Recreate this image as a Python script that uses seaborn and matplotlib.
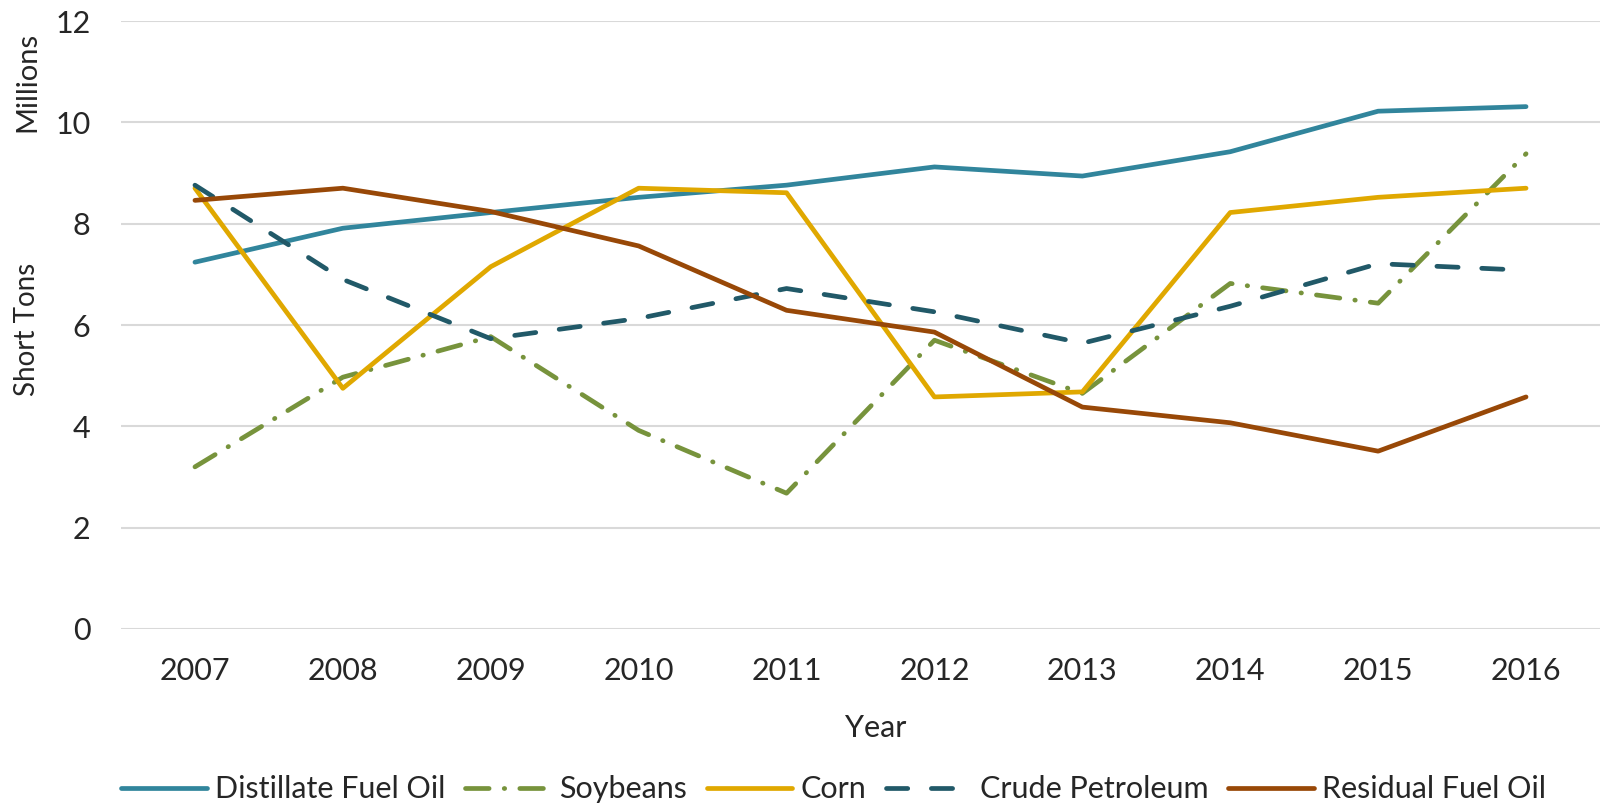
import pandas as pd
import matplotlib
matplotlib.use("Agg")
import matplotlib.pyplot as plt
import seaborn as sns

# Data (millions of short tons)
years = [2007, 2008, 2009, 2010, 2011, 2012, 2013, 2014, 2015, 2016]
distillate = [7.24, 7.91, 8.22, 8.52, 8.76, 9.12, 8.94, 9.42, 10.22, 10.31]
soybeans = [3.20, 4.97, 5.77, 3.92, 2.68, 5.70, 4.65, 6.82, 6.43, 9.38]
corn = [8.70, 4.75, 7.15, 8.70, 8.61, 4.58, 4.68, 8.22, 8.52, 8.70]
crude = [8.76, 6.90, 5.73, 6.13, 6.72, 6.26, 5.64, 6.37, 7.21, 7.08]
residual = [8.46, 8.70, 8.24, 7.56, 6.29, 5.86, 4.38, 4.07, 3.51, 4.58]

series_names = ["Distillate Fuel Oil", "Soybeans", "Corn", "Crude Petroleum", "Residual Fuel Oil"]
series_values = [distillate, soybeans, corn, crude, residual]

rows = []
for name, vals in zip(series_names, series_values):
    for yr, v in zip(years, vals):
        rows.append({"Year": yr, "Value": v, "Series": name})
df = pd.DataFrame(rows)

palette = {
    "Distillate Fuel Oil": "#31859C",
    "Soybeans": "#77933C",
    "Corn": "#E0A800",
    "Crude Petroleum": "#215968",
    "Residual Fuel Oil": "#984807",
}
dashes = {
    "Distillate Fuel Oil": "",
    "Soybeans": (5.0, 3.2, 0.1, 3.2),
    "Corn": "",
    "Crude Petroleum": (4.5, 5.0),
    "Residual Fuel Oil": "",
}

sns.set_style("white")
plt.rcParams["font.family"] = ["Lato", "DejaVu Sans"]

fig = plt.figure(figsize=(16.06, 8.07), dpi=100)
ax = fig.add_axes([121 / 1606, 1 - 629 / 807, 1479 / 1606, 608 / 807])

sns.lineplot(data=df, x="Year", y="Value", hue="Series", style="Series",
             palette=palette, dashes=dashes, linewidth=3.4, ax=ax, legend=False,
             hue_order=series_names, style_order=series_names)

for line in ax.get_lines():
    line.set_dash_capstyle("round")
    line.set_solid_capstyle("round")

ax.set_xlim(2006.5, 2016.5)
ax.set_ylim(0, 12)
ax.set_xticks(years)
ax.set_xticklabels([str(y) for y in years])
ax.set_yticks([0, 2, 4, 6, 8, 10, 12])
ax.tick_params(axis="both", length=0, labelsize=22)
ax.tick_params(axis="x", pad=20)
ax.tick_params(axis="y", pad=22)
ax.grid(axis="y", color="#D9D9D9", linewidth=1.5)
ax.set_axisbelow(True)
for s in ax.spines.values():
    s.set_visible(False)

ax.set_ylabel("")
ax.set_xlabel("Year", fontsize=22)
ax.xaxis.set_label_coords(0.51, -0.14)

fig.text(27 / 1606, 1 - 329 / 807, "Short Tons", rotation=90, ha="center", va="center", fontsize=20)
fig.text(27 / 1606, 1 - 82 / 807, "Millions", rotation=90, ha="center", va="center", fontsize=21)

handles = []
for name in series_names:
    h, = ax.plot([], [], color=palette[name], linewidth=3.4)
    if dashes[name]:
        h.set_dashes(dashes[name])
    h.set_dash_capstyle("round")
    handles.append(h)
fig.legend(handles, series_names, loc="center", bbox_to_anchor=(0.519, 0.022), ncol=5,
           frameon=False, fontsize=22, handlelength=2.8, handletextpad=0.27, columnspacing=0.65)

fig.savefig("out.png", dpi=100)
